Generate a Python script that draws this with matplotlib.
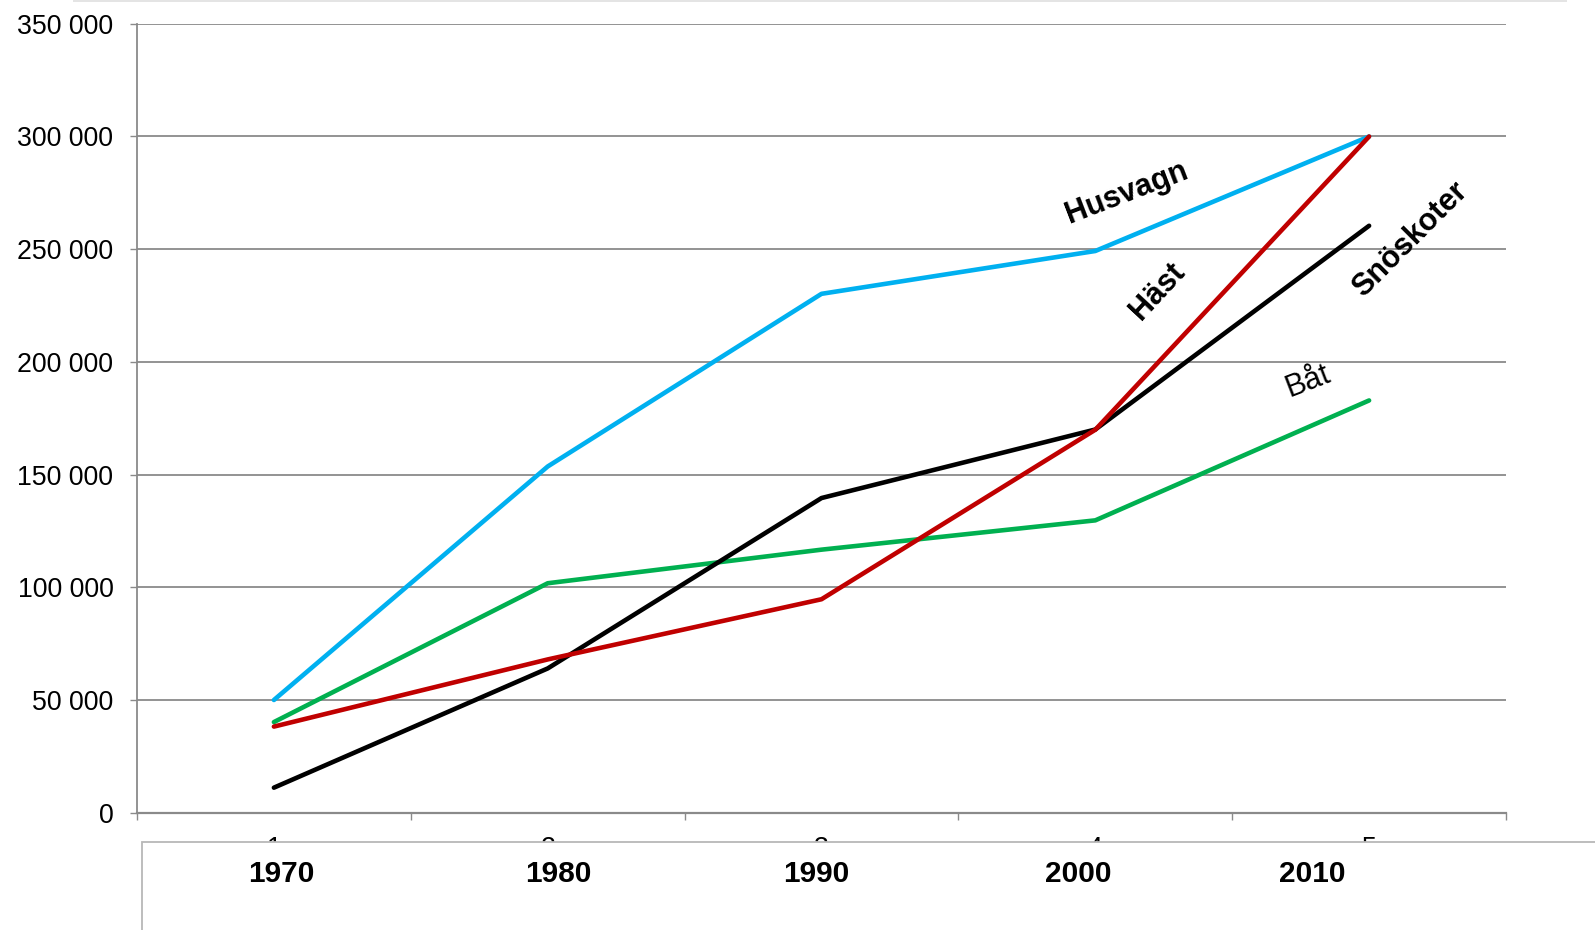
import matplotlib
matplotlib.use('Agg')
import matplotlib.pyplot as plt
from matplotlib.patches import Rectangle
from matplotlib.ticker import FixedLocator, FuncFormatter

# ---------------- data ----------------
categories = [1, 2, 3, 4, 5]
cat_labels = ['1', '2', '3', '4', '5']
years = ['1970', '1980', '1990', '2000', '2010']
husvagn = [50000, 153600, 230200, 249200, 300000]
hast = [38200, 68000, 94700, 169900, 300000]
snoskoter = [11100, 64000, 139600, 170000, 260400]
bat = [40200, 101800, 116700, 129700, 182900]
yticks = [0, 50000, 100000, 150000, 200000, 250000, 300000, 350000]

W, H = 1595, 930
fig = plt.figure(figsize=(W / 100, H / 100), dpi=100)
fig.patch.set_facecolor('white')

# axes placement (pixels)
ax_l, ax_r, ax_t, ax_b = 137, 1506, 23.8, 812.7
ax = fig.add_axes([ax_l / W, 1 - ax_b / H, (ax_r - ax_l) / W, (ax_b - ax_t) / H])

FONT = ['Liberation Sans', 'Arial', 'DejaVu Sans']
GRID = '#8a8a8a'

ax.set_xlim(0.5, 5.5)
ax.set_ylim(0, 350000)

for vals, col in [(husvagn, '#00b0f0'), (bat, '#00b050'),
                  (snoskoter, '#000000'), (hast, '#c00000')]:
    ax.plot(categories, vals, color=col, lw=3.3, solid_capstyle='round',
            solid_joinstyle='round', zorder=3, clip_on=False)

# grid
ax.yaxis.set_major_locator(FixedLocator(yticks))
ax.yaxis.set_major_formatter(FuncFormatter(lambda v, p: f"{int(v):,}".replace(',', ' ')))
ax.grid(axis='y', color=GRID, lw=1.3, zorder=1)
ax.set_axisbelow(True)

for s in ['top', 'right']:
    ax.spines[s].set_visible(False)
ax.spines['left'].set_color(GRID)
ax.spines['left'].set_linewidth(1.3)
ax.spines['bottom'].set_color(GRID)
ax.spines['bottom'].set_linewidth(1.6)

ax.tick_params(axis='y', direction='out', length=5, width=1.0, color=GRID,
               pad=12, labelsize=19.3)
for lab in ax.get_yticklabels():
    lab.set_family(FONT)

ax.xaxis.set_major_locator(FixedLocator(categories))
ax.set_xticklabels(cat_labels)
ax.xaxis.set_minor_locator(FixedLocator([c - 0.5 for c in categories] + [categories[-1] + 0.5]))
ax.tick_params(axis='x', which='major', length=0, pad=16.5, labelsize=19.3)
ax.tick_params(axis='x', which='minor', direction='out', length=5, width=1.0, color=GRID)
for lab in ax.get_xticklabels():
    lab.set_family(FONT)

# series labels
def lbl(x, y, s, rot, weight='bold', size=22):
    ax.text(x, y, s, rotation=rot, rotation_mode='anchor', ha='center', va='center',
            fontsize=size, fontweight=weight, family=FONT, zorder=4)

lbl(4.115, 274900, 'Husvagn', 21)
lbl(4.229, 231100, 'Häst', 47)
lbl(5.149, 254100, 'Snöskoter', 45)
lbl(4.777, 191200, 'Båt', 21, weight='normal')

# top light band
fig.add_artist(Rectangle((73 / W, 1 - 2.5 / H), (1567 - 73) / W, 2.5 / H,
                         transform=fig.transFigure, facecolor='#e4e4e4',
                         edgecolor='none', zorder=10))

# overlay box with years
box_l, box_t = 142.4, 841.7
fig.add_artist(Rectangle((box_l / W, -0.05), 1.2, (1 - box_t / H) + 0.05,
                         transform=fig.transFigure, facecolor='white',
                         edgecolor='#b8b8b8', lw=1.3, zorder=10))
year_x = [281.8, 558.3, 816.0, 1078.5, 1312.5]
for xp, yr in zip(year_x, years):
    fig.text(xp / W, 1 - 873.5 / H, yr, ha='center', va='center', fontsize=21.5,
             fontweight='bold', family=FONT, zorder=11)

fig.savefig('out.png', dpi=100)
